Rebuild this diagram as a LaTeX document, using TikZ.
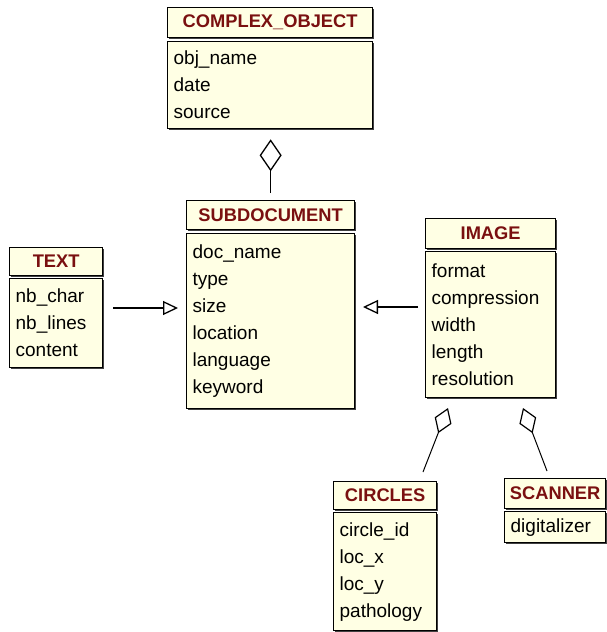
\documentclass[tikz,border=0pt]{standalone}
\usepackage{fontspec}
\setmainfont{Liberation Sans}
\usetikzlibrary{arrows.meta,shadows}
\definecolor{classfill}{RGB}{255,255,228}
\definecolor{classname}{RGB}{122,16,16}

\tikzset{
  box/.style={draw=black, line width=1.3pt, fill=classfill, anchor=north west,
    inner sep=0pt,
    drop shadow={shadow xshift=1.4pt, shadow yshift=-1.4pt, opacity=1, fill=black!75}},
  head/.style={box, font=\fontsize{18.3}{20}\selectfont\bfseries, text=classname},
  attrs/.style={box, font=\fontsize{19}{27}\selectfont, align=left, inner xsep=6pt},
  inherit/.style={line width=1.6pt,
    -{Triangle[open, length=15pt, width=14pt, line width=1.3pt]}},
  aggr/.style={line width=1pt, -{Diamond[open, length=27pt, width=18pt, line width=1.2pt]}},
  aggrbig/.style={line width=1.3pt, -{Diamond[open, length=32pt, width=22pt]}},
}

\begin{document}
\begin{tikzpicture}[x=1pt, y=-1pt]
\useasboundingbox (0,0) rectangle (607,632);

% COMPLEX_OBJECT
\node[head, minimum width=205pt, minimum height=30pt] (cxH) at (167,7) {COMPLEX\_OBJECT};
\node[attrs, text width=193pt, minimum height=87pt] (cxB) at (167,41) {obj\_name\\date\\source};

% SUBDOCUMENT
\node[head, minimum width=168pt, minimum height=29pt] (subH) at (186,200) {SUBDOCUMENT};
\node[attrs, text width=156pt, minimum height=175pt] (subB) at (186,233)
  {doc\_name\\type\\size\\location\\language\\keyword};

% TEXT
\node[head, minimum width=93pt, minimum height=28pt] (txH) at (9,247) {TEXT};
\node[attrs, text width=81pt, minimum height=89pt] (txB) at (9,278)
  {nb\_char\\nb\_lines\\content};

% IMAGE
\node[head, minimum width=130pt, minimum height=30pt] (imH) at (425,218) {IMAGE};
\node[attrs, text width=118pt, minimum height=146pt] (imB) at (425,251)
  {format\\compression\\width\\length\\resolution};

% CIRCLES
\node[head, minimum width=103pt, minimum height=28pt] (ciH) at (333,481) {CIRCLES};
\node[attrs, text width=91pt, minimum height=118pt] (ciB) at (333,512)
  {circle\_id\\loc\_x\\loc\_y\\pathology};

% SCANNER
\node[head, minimum width=101pt, minimum height=30pt] (scH) at (504,478) {SCANNER};
\node[attrs, text width=89pt, minimum height=31pt] (scB) at (504,511) {digitalizer};

% connector end points
\coordinate (txOut) at (113,308);
\coordinate (txIn)  at (178,308);
\coordinate (imOut) at (418,307);
\coordinate (imIn)  at (363,307);
\coordinate (ciOut) at (423,472);
\coordinate (ciIn)  at (448,408);
\coordinate (scOut) at (547,471);
\coordinate (scIn)  at (523,408);

% aggregation: SUBDOCUMENT part of COMPLEX_OBJECT
\draw[aggrbig, shorten <=7pt, shorten >=10pt] (subH.north) -- (subH.north |- cxB.south);

% generalisations
\draw[inherit] (txOut) -- (txIn);
\draw[inherit] (imOut) -- (imIn);

% aggregations into IMAGE
\draw[aggr] (ciOut) -- (ciIn);
\draw[aggr] (scOut) -- (scIn);
\end{tikzpicture}
\end{document}
